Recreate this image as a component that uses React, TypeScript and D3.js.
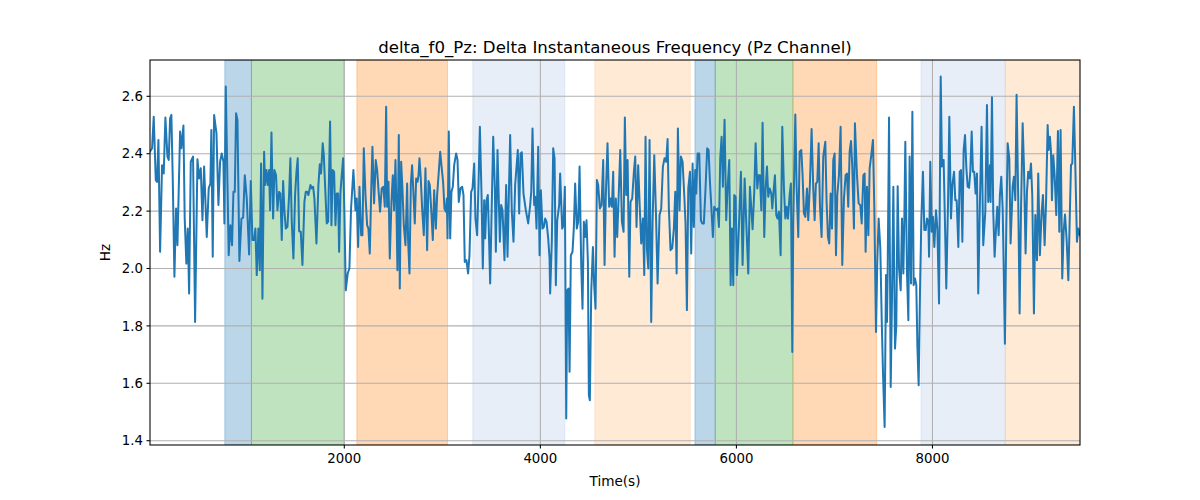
import React from "react";
import * as d3 from "d3";

const times: number[] = [
18,39,56,77,90,104,121,141,158,175,196,209,223,236,250,267,284,298,325,338,359,372,389,403,417,434,457,478,502,519,536,553,570,597,617,634,644,658,672,696,716,733,750,767,777,791,821,838,855,869,883,896,910,930,951,968,985,1005,1029,1046,1063,1080,1093,1107,1124,1138,1151,1165,1182,
1192,1206,1219,1233,1243,1257,1274,1287,1304,1318,1335,1348,1362,1376,1389,1403,1420,1437,1450,1464,1481,1498,1512,1525,1539,1556,1573,1593,1607,1621,1634,1655,1668,1682,1695,1716,1736,1750,1763,1780,1791,1804,1821,1835,1855,1869,1882,1896,1910,1923,1937,1947,1961,1974,1988,2001,2015,2035,2052,2069,2093,2114,2127,2141,2155,2172,2185,2199,2216,2233,2246,2260,2277,2287,2304,2321,2335,2348,2365,2382,2399,2413,2427,
2437,2451,2464,2481,2495,2508,2522,2532,2542,2556,2566,2580,2593,2607,2624,2641,2651,2665,2679,2692,2706,2719,2733,2747,2757,2767,2781,2794,2811,2828,2845,2859,2872,2889,2903,2917,2934,2947,2964,2978,2991,3008,3022,3036,3046,3053,3066,3080,3093,3107,3121,3141,3155,3168,3185,3202,3216,3229,3246,3263,3277,3294,3308,3325,3338,3355,3369,3383,3400,3413,3427,3437,3451,3464,3474,3488,3505,3519,3536,3546,3563,
3587,3600,3614,3634,3651,3665,3692,3709,3726,3743,3770,3784,3798,3811,3828,3852,3876,3896,3907,3920,3937,3947,3961,3978,3992,4005,4022,4036,4049,4063,4080,4094,4100,4117,4131,4145,4158,4172,4192,4202,4223,4236,4250,4264,4274,4287,4298,4311,4328,4342,4355,4372,4386,4400,4417,4430,4444,4457,4471,4485,4495,4505,4519,4536,4549,4563,4577,4590,4607,4624,4641,4655,4668,4685,4702,4716,4730,4743,4757,4770,4784,4798,4815,
4832,4849,4862,4876,4890,4907,4920,4937,4954,4968,4981,4998,5012,5029,5046,5060,5073,5087,5101,5114,5131,5145,5162,5179,5196,5216,5233,5250,5267,5284,5298,5311,5328,5345,5362,5376,5390,5403,5420,5434,5451,5468,5481,5495,5509,5526,5539,5553,5566,5580,5590,5604,5621,5638,5651,5668,5685,5702,5716,5730,5747,5760,5774,5794,5808,5822,5835,5849,5862,5879,5896,5910,5927,5941,5954,5968,5978,5992,6005,
6026,6046,6063,6084,6101,6121,6138,6152,6165,6182,6196,6213,6226,6240,6254,6267,6284,6298,6312,6325,6339,6356,6366,6380,6393,6407,6420,6434,6451,6468,6485,6499,6512,6526,6543,6556,6570,6580,6601,6614,6631,6645,6662,6675,6689,6703,6720,6733,6750,6767,6784,6798,6811,6825,6839,6852,6869,6886,6907,6920,6934,6947,6961,6975,6988,7002,7016,7029,7046,7063,7080,7097,7114,7128,7141,7155,7169,7182,7199,7209,
7230,7247,7264,7278,7295,7308,7318,7332,7346,7359,7376,7393,7407,7424,7437,7451,7468,7482,7495,7512,7526,7536,7543,7557,7574,7587,7601,7618,7631,7645,7659,7676,7689,7703,7713,7723,7740,7754,7767,7781,7795,7808,7822,7835,7846,7859,7873,7886,7903,7917,7931,7944,7958,7965,7978,7992,8005,8019,8036,8050,8067,8084,8097,8114,8128,8141,8159,8172,8189,8203,8220,8233,8247,8264,8278,8291,8305,8318,8332,8346,8359,8373,8386,8400,
8413,8426,8440,8454,8467,8484,8501,8518,8539,8556,8569,8586,8593,8607,8620,8634,8648,8661,8675,8688,8702,8716,8726,8739,8753,8767,8784,8797,8818,8831,8845,8858,8875,8889,8903,8920,8933,8950,8964,8977,8991,9005,9018,9035,9049,9066,9079,9096,9113,9127,9144,9158,9175,9185,9198,9209,9219,9232,9246,9263,9280,9294,9307,9324,9338,9352,9369,9386,9399,9413,9426,9443,9457,9474,9488,9505
];

const values: number[] = [
2.407,2.419,2.529,2.308,2.302,2.448,2.058,2.360,2.331,2.526,2.390,2.378,2.523,2.535,2.314,1.971,2.209,2.081,2.477,2.419,2.498,2.174,2.017,2.139,1.913,2.372,2.390,1.814,2.381,2.314,2.349,2.168,2.355,2.110,2.279,2.296,2.483,2.041,2.535,2.471,2.221,2.372,2.401,2.372,2.157,2.634,2.046,2.151,2.081,2.267,2.267,2.541,2.518,2.026,2.174,2.177,2.325,2.244,2.049,2.305,2.099,2.099,2.139,1.977,2.139,1.994,2.366,1.895,2.407,
2.291,2.343,2.291,2.343,2.203,2.474,2.174,2.343,2.325,2.203,2.267,2.261,2.099,2.305,2.203,2.139,2.145,2.256,2.384,2.163,2.035,2.256,2.337,2.384,2.130,2.128,2.012,2.232,2.267,2.267,2.256,2.291,2.279,2.285,2.244,2.087,2.291,2.363,2.331,2.436,2.395,2.291,2.157,2.163,2.512,2.151,2.343,2.337,2.151,2.261,2.261,2.058,2.267,2.325,2.384,2.198,1.924,1.983,2.000,2.209,2.343,2.203,2.244,2.075,2.285,2.116,2.116,2.419,2.256,2.151,2.139,2.052,2.302,2.424,2.227,2.378,2.343,2.279,2.198,2.279,2.285,2.215,2.564,
2.215,2.302,2.035,2.232,2.325,2.203,2.378,2.215,1.994,2.465,1.930,2.372,2.279,2.151,2.081,2.296,2.099,1.983,2.296,2.360,2.256,2.157,2.314,2.302,2.325,2.384,2.308,2.209,2.116,2.349,2.064,2.305,2.291,2.192,2.099,2.273,2.139,2.256,2.337,2.407,2.360,2.302,2.209,2.198,2.244,2.105,2.477,2.105,2.267,2.285,2.360,2.401,2.378,2.232,2.279,2.285,2.256,2.023,2.029,1.983,2.046,2.267,2.279,2.366,2.174,2.116,2.291,2.494,2.256,2.000,2.238,2.105,2.238,2.256,2.139,1.948,2.232,2.459,2.279,2.058,2.413,
2.093,2.221,2.203,2.029,2.291,2.041,2.465,2.198,2.093,2.291,2.413,2.192,2.401,2.405,2.261,2.203,2.157,2.221,2.267,2.488,2.221,2.250,2.139,2.424,2.046,2.273,2.139,2.145,2.174,2.163,2.105,2.035,1.913,2.093,2.419,2.384,1.942,2.168,2.221,2.331,2.139,2.151,2.285,1.477,1.924,1.930,1.640,2.046,2.058,2.145,2.296,2.139,2.163,2.355,2.012,1.860,2.163,2.110,2.168,2.023,1.558,1.541,1.919,2.075,1.942,1.860,2.308,2.291,2.209,2.221,2.378,2.012,2.256,2.436,2.215,2.244,2.215,2.337,2.041,2.244,2.110,2.244,2.413,
2.163,2.128,2.526,2.256,2.378,1.971,2.232,2.244,2.337,2.390,2.145,2.360,2.232,2.087,2.174,1.977,2.459,2.070,2.000,2.448,1.814,2.163,2.395,2.198,1.948,2.186,2.209,2.355,2.384,2.372,2.451,2.209,2.064,2.070,2.139,2.267,1.983,2.488,2.203,2.390,2.372,2.256,2.157,1.855,2.279,2.337,2.052,2.366,2.145,2.343,2.261,2.401,2.401,2.168,2.157,2.157,2.279,2.419,2.413,2.302,2.198,2.110,2.215,2.203,2.209,2.145,2.384,2.459,2.285,2.518,2.168,2.279,2.378,1.942,2.139,1.942,2.256,2.250,1.977,
2.151,2.337,2.012,2.314,2.157,1.983,2.285,2.209,2.137,2.267,2.436,2.279,2.325,2.325,2.203,2.508,2.110,2.279,2.355,2.250,2.279,2.261,2.209,2.273,2.325,2.186,2.174,2.198,2.046,2.494,2.279,2.174,2.215,2.174,2.256,2.296,1.709,2.163,2.537,2.285,2.110,2.407,2.413,2.325,2.192,2.180,2.279,2.168,2.296,2.486,2.279,2.168,2.296,2.302,2.436,2.221,2.110,2.390,2.442,2.232,2.110,2.087,2.261,2.139,2.378,2.401,2.046,2.256,2.325,2.494,2.012,2.244,2.325,2.331,2.215,2.407,2.444,2.355,2.139,2.506,
2.325,2.227,2.221,2.157,2.325,2.331,2.058,2.285,2.116,2.349,2.395,2.448,2.209,1.779,2.023,2.174,2.070,1.826,1.640,1.448,1.977,1.814,1.983,2.526,1.587,1.895,2.285,1.721,1.802,2.287,2.000,1.924,2.174,1.983,2.174,2.442,1.988,1.820,2.390,1.948,2.546,1.942,1.965,1.942,1.733,1.593,1.924,2.163,2.337,2.134,2.134,2.174,2.163,2.041,2.372,2.128,2.180,2.075,2.203,2.139,1.878,2.669,2.355,2.378,2.151,1.930,2.232,2.529,2.174,2.291,2.337,2.238,2.238,2.075,2.337,2.343,2.093,2.413,2.465,2.349,2.285,2.281,2.337,2.477,
2.337,2.337,2.261,2.331,1.913,2.232,2.494,2.081,2.198,2.570,2.232,2.360,2.232,2.597,2.198,2.041,2.139,2.215,2.116,2.256,2.320,2.209,2.017,1.738,2.139,2.436,2.384,2.087,2.285,2.320,2.238,2.605,2.238,1.843,2.198,2.506,2.360,2.052,2.267,2.337,2.314,2.366,2.256,1.843,2.186,2.029,2.331,2.046,2.192,2.256,2.081,2.221,2.500,2.413,2.459,2.407,2.238,2.395,2.325,2.186,2.479,2.128,2.483,1.965,2.128,2.188,2.099,1.959,2.157,2.360,2.366,2.564,2.360,2.093,2.139,2.116
];

const spanStarts: number[] = [781, 1053, 2128, 3311, 4556, 5577, 5784, 6577, 7883, 8743];
const spanEnds: number[] = [1053, 1998, 3053, 4250, 5529, 5784, 6577, 7431, 8743, 9520];
const spanKinds: string[] = ["blue", "green", "orange", "lightblue", "lightorange", "blue", "green", "orange", "lightblue", "lightorange"];

const xTicks: number[] = [2000, 4000, 6000, 8000];
const yTicks: number[] = [1.4, 1.6, 1.8, 2.0, 2.2, 2.4, 2.6];

const spanFill: Record<string, string> = {
  blue: "#1f77b4",
  green: "#2ca02c",
  orange: "#ff7f0e",
  lightblue: "#aec7e8",
  lightorange: "#ffbb78",
};

export default function App() {
  const W = 1200, H = 500;
  const left = 150, right = 1080, top = 60, bottom = 445;
  const x = d3.scaleLinear().domain([18, 9505]).range([left, right]);
  const y = d3.scaleLinear().domain([1.385, 2.7265]).range([bottom, top]);
  const pts: [number, number][] = times.map((t, i) => [t, values[i]]);
  const line = d3.line<[number, number]>().x(d => x(d[0])).y(d => y(d[1]));
  const font = "DejaVu Sans, sans-serif";
  return (
    <svg width={W} height={H} style={{ display: "block", position: "absolute", left: 0, top: 0 }} fontFamily={font}>
      <rect x={0} y={0} width={W} height={H} fill="#fff" />
      <defs>
        <clipPath id="plot">
          <rect x={left} y={top} width={right - left} height={bottom - top} />
        </clipPath>
      </defs>
      <g clipPath="url(#plot)">
        {spanStarts.map((s, i) => (
          <rect key={i} x={x(s)} y={top} width={x(spanEnds[i]) - x(s)} height={bottom - top}
            fill={spanFill[spanKinds[i]]} fillOpacity={0.3}
            stroke={spanFill[spanKinds[i]]} strokeOpacity={0.3} strokeWidth={1} />
        ))}
        {xTicks.map(t => (
          <line key={"gx" + t} x1={x(t)} x2={x(t)} y1={top} y2={bottom} stroke="#b0b0b0" strokeWidth={1.07} />
        ))}
        {yTicks.map(t => (
          <line key={"gy" + t} x1={left} x2={right} y1={y(t)} y2={y(t)} stroke="#b0b0b0" strokeWidth={1.07} />
        ))}
        <path d={line(pts) || ""} fill="none" stroke="#1f77b4" strokeWidth={2} strokeLinejoin="round" strokeLinecap="square" />
      </g>
      <rect x={left} y={top} width={right - left} height={bottom - top} fill="none" stroke="#000" strokeWidth={1.07} />
      {xTicks.map(t => (
        <g key={"tx" + t}>
          <line x1={x(t)} x2={x(t)} y1={bottom} y2={bottom + 3.5} stroke="#000" strokeWidth={1.07} />
          <text x={x(t)} y={bottom + 18} textAnchor="middle" fontSize={13.33} fill="#000">{t}</text>
        </g>
      ))}
      {yTicks.map(t => (
        <g key={"ty" + t}>
          <line x1={left - 3.5} x2={left} y1={y(t)} y2={y(t)} stroke="#000" strokeWidth={1.07} />
          <text x={left - 7} y={y(t)} dy="0.35em" textAnchor="end" fontSize={13.33} fill="#000">{t.toFixed(1)}</text>
        </g>
      ))}
      <text x={(left + right) / 2} y={486} textAnchor="middle" fontSize={13.6} fill="#000">Time(s)</text>
      <text transform={`translate(110, ${(top + bottom) / 2}) rotate(-90)`} textAnchor="middle" fontSize={13.6} fill="#000">Hz</text>
      <text x={(left + right) / 2} y={52.5} textAnchor="middle" fontSize={16.6} fill="#000">delta_f0_Pz: Delta Instantaneous Frequency (Pz Channel)</text>
    </svg>
  );
}
